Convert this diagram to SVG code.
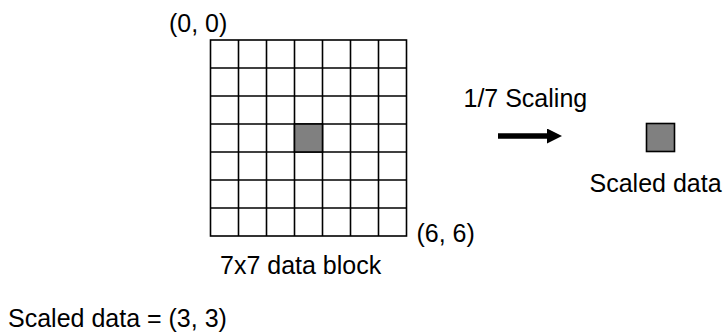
<svg xmlns="http://www.w3.org/2000/svg" width="724" height="336" viewBox="0 0 724 336">
  <style>
    text { font-family: "Liberation Sans", Arial, sans-serif; font-size: 25px; fill: #000; }
    .cell { fill: #fff; stroke: #000; stroke-width: 1.6; }
    .hl { fill: #808080; stroke: #000; stroke-width: 1.6; }
  </style>
  <defs>
    <marker id="ah" viewBox="0 0 15 15" refX="0" refY="7.5" markerWidth="15" markerHeight="15" markerUnits="userSpaceOnUse" orient="auto">
      <path d="M0,0 L15,7.5 L0,15 Z" fill="#000"/>
    </marker>
  </defs>
  <rect width="724" height="336" fill="#fff"/>

  <g id="block">
    <rect class="cell" x="210.5" y="40" width="196" height="196"/>
    <g stroke="#000" stroke-width="1.6">
      <line x1="238.5" y1="40" x2="238.5" y2="236"/>
      <line x1="266.5" y1="40" x2="266.5" y2="236"/>
      <line x1="294.5" y1="40" x2="294.5" y2="236"/>
      <line x1="322.5" y1="40" x2="322.5" y2="236"/>
      <line x1="350.5" y1="40" x2="350.5" y2="236"/>
      <line x1="378.5" y1="40" x2="378.5" y2="236"/>
      <line x1="210.5" y1="68" x2="406.5" y2="68"/>
      <line x1="210.5" y1="96" x2="406.5" y2="96"/>
      <line x1="210.5" y1="124" x2="406.5" y2="124"/>
      <line x1="210.5" y1="152" x2="406.5" y2="152"/>
      <line x1="210.5" y1="180" x2="406.5" y2="180"/>
      <line x1="210.5" y1="208" x2="406.5" y2="208"/>
    </g>
    <rect class="hl" x="294.5" y="124" width="28" height="28"/>
    <text x="169" y="32">(0, 0)</text>
    <text x="416.5" y="242">(6, 6)</text>
    <text x="220" y="274">7x7 data block</text>
  </g>

  <g id="scaled">
    <rect class="hl" x="646.5" y="123.5" width="28" height="28"/>
    <text x="589.5" y="192">Scaled data</text>
  </g>

  <g id="connectors">
    <line x1="498" y1="136" x2="547" y2="136" stroke="#000" stroke-width="5.5" marker-end="url(#ah)"/>
    <text x="463.5" y="107">1/7 Scaling</text>
  </g>

  <g id="note">
    <text x="8" y="327">Scaled data = (3, 3)</text>
  </g>
</svg>
